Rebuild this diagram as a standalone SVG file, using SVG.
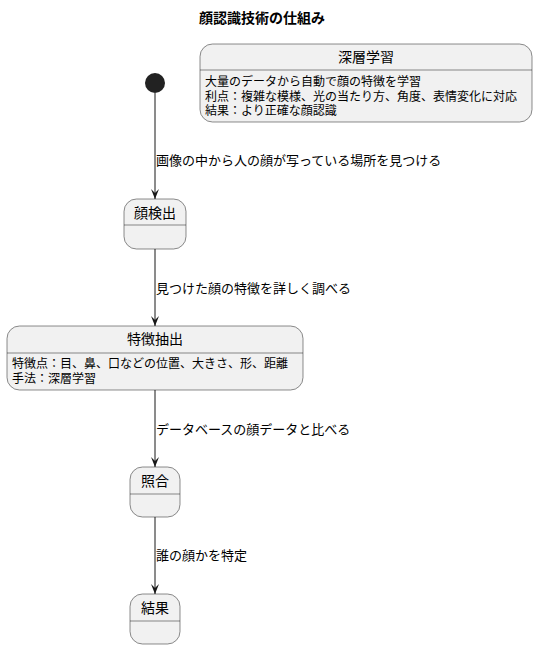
<svg xmlns="http://www.w3.org/2000/svg" width="538" height="649" viewBox="0 0 538 649">
<defs>
<style>
text{font-family:"Liberation Sans","Noto Sans CJK JP",sans-serif;fill:#000}
.st{fill:#F1F1F1;stroke:#181818;stroke-width:0.5}
.dv{stroke:#181818;stroke-width:0.5}
.nm{font-size:14px;text-anchor:middle}
.bd{font-size:12px}
.lb{font-size:13px}
.ln{stroke:#181818;stroke-width:1;fill:none}
</style>
<marker id="ah" viewBox="0 0 10 10" refX="10" refY="5" markerWidth="10" markerHeight="10" markerUnits="userSpaceOnUse" orient="auto">
<path d="M0,1 L10,5 L0,9 L4,5 Z" fill="#181818"/>
</marker>
</defs>
<rect width="538" height="649" fill="#FFFFFF"/>
<text x="262" y="23" font-size="14" font-weight="bold" text-anchor="middle">顔認識技術の仕組み</text>
<g id="deep">
<rect class="st" x="200" y="44" width="332" height="78" rx="12.5"/>
<line class="dv" x1="200" y1="70" x2="532" y2="70"/>
<text class="nm" x="366" y="62">深層学習</text>
<text class="bd" x="205" y="86">大量のデータから自動で顔の特徴を学習</text>
<text class="bd" x="205" y="101">利点：複雑な模様、光の当たり方、角度、表情変化に対応</text>
<text class="bd" x="205" y="115">結果：より正確な顔認識</text>
</g>
<g id="start">
<circle cx="155" cy="83" r="10" fill="#222222"/>
</g>
<g id="detect">
<rect class="st" x="124" y="199" width="62" height="50" rx="12.5"/>
<line class="dv" x1="124" y1="225" x2="186" y2="225"/>
<text class="nm" x="155" y="218">顔検出</text>
</g>
<g id="extract">
<rect class="st" x="7" y="326" width="296" height="64" rx="12.5"/>
<line class="dv" x1="7" y1="353" x2="303" y2="353"/>
<text class="nm" x="155" y="344">特徴抽出</text>
<text class="bd" x="12" y="368">特徴点：目、鼻、口などの位置、大きさ、形、距離</text>
<text class="bd" x="12" y="383">手法：深層学習</text>
</g>
<g id="match">
<rect class="st" x="130" y="467" width="50" height="50" rx="12.5"/>
<line class="dv" x1="130" y1="494" x2="180" y2="494"/>
<text class="nm" x="155" y="486">照合</text>
</g>
<g id="result">
<rect class="st" x="130" y="594" width="50" height="50" rx="12.5"/>
<line class="dv" x1="130" y1="621" x2="180" y2="621"/>
<text class="nm" x="155" y="613">結果</text>
</g>
<g id="connectors">
<line class="ln" x1="155" y1="93" x2="155" y2="199" marker-end="url(#ah)"/>
<text class="lb" x="156" y="165">画像の中から人の顔が写っている場所を見つける</text>
<line class="ln" x1="155" y1="249" x2="155" y2="326" marker-end="url(#ah)"/>
<text class="lb" x="156" y="293">見つけた顔の特徴を詳しく調べる</text>
<line class="ln" x1="155" y1="390" x2="155" y2="467" marker-end="url(#ah)"/>
<text class="lb" x="156" y="434">データベースの顔データと比べる</text>
<line class="ln" x1="155" y1="517" x2="155" y2="594" marker-end="url(#ah)"/>
<text class="lb" x="156" y="560">誰の顔かを特定</text>
</g>
</svg>
